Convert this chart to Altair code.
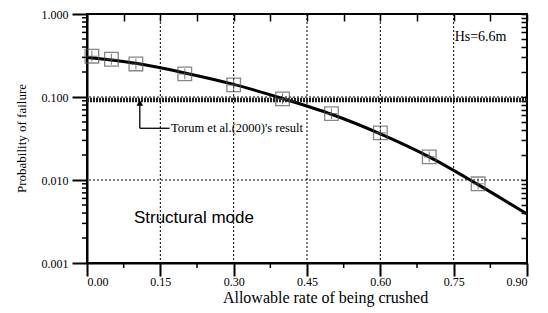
import altair as alt
import pandas as pd

# data
pts_x = [0.01, 0.05, 0.10, 0.20, 0.30, 0.40, 0.50, 0.60, 0.70, 0.80]
pts_y = [0.31, 0.285, 0.25, 0.19, 0.14, 0.095, 0.063, 0.037, 0.019, 0.009]
curve_x = [0.00, 0.10, 0.20, 0.30, 0.40, 0.50, 0.60, 0.70, 0.80, 0.90]
curve_y = [0.30, 0.255, 0.195, 0.142, 0.096, 0.062, 0.036, 0.019, 0.0088, 0.0039]
torum_y = 0.092
x_grid = [0.15, 0.30, 0.45, 0.60, 0.75]
y_grid = [0.01, 0.1]
x_major = [0.0, 0.15, 0.30, 0.45, 0.60, 0.75, 0.90]
x_minor = [0.075, 0.225, 0.375, 0.525, 0.675, 0.825]
y_major = [0.001, 0.01, 0.1, 1.0]
y_minor = [m * 10 ** e for e in (-3, -2, -1) for m in range(2, 10)]

W, H = 440, 249
serif = "Liberation Serif"

xs = alt.Scale(domain=[0, 0.9], nice=False, zero=False)
ys = alt.Scale(type="log", domain=[0.001, 1], nice=False)

pts = pd.DataFrame({"x": pts_x, "y": pts_y})
crv = pd.DataFrame({"x": curve_x, "y": curve_y})

x_axis = alt.Axis(values=x_major, format=".2f", grid=False, ticks=True, tickSize=13,
                  tickWidth=2, domainWidth=2, domainColor="black",
                  tickColor="black", labelFont=serif, labelFontSize=12, labelColor="black",
                  labelPadding=0, title="Allowable rate of being crushed", titleFont=serif,
                  titleFontSize=16, titleFontWeight="normal", titleColor="black",
                  titleX=238, titleY=26, titleAlign="center")
y_axis = alt.Axis(values=y_major, format=".3f", grid=False, ticks=True, tickSize=15,
                  tickWidth=2, domainWidth=2, domainColor="black",
                  tickColor="black", labelFont=serif, labelFontSize=12, labelColor="black",
                  labelPadding=4, title="Probability of failure", titleFont=serif,
                  titleFontSize=13, titleFontWeight="normal", titleColor="black",
                  titleX=-59, titleY=124, titleAlign="center")

curve = alt.Chart(crv).mark_line(color="black", strokeWidth=3, interpolate="monotone").encode(
    x=alt.X("x:Q", scale=xs, axis=x_axis),
    y=alt.Y("y:Q", scale=ys, axis=y_axis),
)

# minor ticks on the bottom and left axes (outward)
xminor = alt.Chart(pd.DataFrame({"x": x_minor})).mark_tick(
    color="black", thickness=1.5, size=5, yOffset=2.5, clip=False, opacity=1).encode(
    x=alt.X("x:Q", scale=xs), y=alt.value(H))
yminor = alt.Chart(pd.DataFrame({"y": y_minor})).mark_tick(
    color="black", thickness=1.5, size=5, xOffset=-2.5, clip=False, opacity=1).encode(
    y=alt.Y("y:Q", scale=ys), x=alt.value(0))

vgrid = alt.Chart(pd.DataFrame({"x": x_grid})).mark_rule(
    color="black", strokeDash=[2, 2], strokeWidth=1).encode(x=alt.X("x:Q", scale=xs))
hgrid = alt.Chart(pd.DataFrame({"y": y_grid})).mark_rule(
    color="black", strokeDash=[2, 2], strokeWidth=1).encode(y=alt.Y("y:Q", scale=ys))

torum = alt.Chart(pd.DataFrame({"y": [torum_y]})).mark_rule(
    color="#222", strokeWidth=4.5, strokeDash=[2, 1]).encode(y=alt.Y("y:Q", scale=ys))

squares = alt.Chart(pts).mark_point(shape="square", size=185, filled=False,
                                    color="#555", strokeWidth=1.3).encode(
    x=alt.X("x:Q", scale=xs), y=alt.Y("y:Q", scale=ys))
plus = alt.Chart(pts).mark_point(shape="M-1,0H1M0,-1V1", size=120, filled=False,
                                 color="#555", strokeWidth=1.1).encode(
    x=alt.X("x:Q", scale=xs), y=alt.Y("y:Q", scale=ys))

# arrow annotation
arr_x = 0.108
arr_y_top = 0.085
arr_y_bot = 0.042
txt_x = 0.172
vline = alt.Chart(pd.DataFrame({"x": [arr_x], "y": [arr_y_top], "y2": [arr_y_bot]})).mark_rule(
    color="black", strokeWidth=1.3).encode(x=alt.X("x:Q", scale=xs), y=alt.Y("y:Q", scale=ys), y2="y2")
hline = alt.Chart(pd.DataFrame({"x": [arr_x], "x2": [txt_x - 0.003], "y": [arr_y_bot]})).mark_rule(
    color="black", strokeWidth=1.3).encode(x=alt.X("x:Q", scale=xs), x2="x2", y=alt.Y("y:Q", scale=ys))
head = alt.Chart(pd.DataFrame({"x": [arr_x], "y": [arr_y_top]})).mark_point(
    shape="triangle-up", size=45, filled=True, color="black", opacity=1).encode(
    x=alt.X("x:Q", scale=xs), y=alt.Y("y:Q", scale=ys))

labels = pd.DataFrame({
    "x": [txt_x, 0.752, 0.096],
    "y": [arr_y_bot, 0.53, 0.0035],
    "t": ["Torum et al.(2000)'s result", "Hs=6.6m", "Structural mode"],
})
txt1 = alt.Chart(labels.iloc[[0]]).mark_text(align="left", baseline="middle", font=serif,
                                            fontSize=12.5, color="black").encode(
    x=alt.X("x:Q", scale=xs), y=alt.Y("y:Q", scale=ys), text="t:N")
txt2 = alt.Chart(labels.iloc[[1]]).mark_text(align="left", baseline="middle", font=serif,
                                            fontSize=14, color="black").encode(
    x=alt.X("x:Q", scale=xs), y=alt.Y("y:Q", scale=ys), text="t:N")
txt3 = alt.Chart(labels.iloc[[2]]).mark_text(align="left", baseline="middle", font="Liberation Sans",
                                            fontSize=17, color="black").encode(
    x=alt.X("x:Q", scale=xs), y=alt.Y("y:Q", scale=ys), text="t:N")

main = alt.layer(curve, xminor, yminor, vgrid, hgrid, torum, squares, plus,
                 vline, hline, head, txt1, txt2, txt3)

# mirror axes (top and right) with inward ticks only
mirror = alt.Chart(crv).mark_point(opacity=0).encode(
    x=alt.X("x:Q", scale=xs, axis=alt.Axis(orient="top", values=x_major + x_minor, labels=False,
                                           title=None, grid=False, domain=False, offset=-7,
                                           tickSize=7, tickWidth=1.5, tickColor="black")),
    y=alt.Y("y:Q", scale=ys, axis=alt.Axis(orient="right", values=y_major + y_minor, labels=False,
                                           title=None, grid=False, domain=False, offset=-6,
                                           tickSize=6, tickWidth=1.5, tickColor="black")),
)

chart = alt.layer(main, mirror).resolve_scale(x="independent", y="independent").properties(
    width=W, height=H,
    autosize=alt.AutoSizeParams(type="none"),
    padding={"left": 79, "top": 6, "right": 13, "bottom": 48},
    background="white",
).configure_view(stroke="black", strokeWidth=2)

chart.save("out.html", embed_options={"renderer": "svg", "actions": False})
